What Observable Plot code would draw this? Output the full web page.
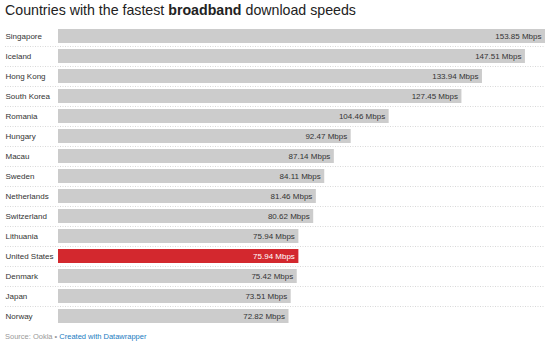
<!DOCTYPE html>
<html><head><meta charset="utf-8">
<script src="https://cdn.jsdelivr.net/npm/d3@7"></script>
<script src="https://cdn.jsdelivr.net/npm/@observablehq/plot@0.6"></script>
<style>
body{margin:0;background:#fff;font-family:"Liberation Sans",Arial,Helvetica,sans-serif;width:550px;height:344px;overflow:hidden}
#title{font-size:14.2px;color:#222;padding:2px 0 0 5px;height:22px;line-height:17px}
#title b{font-weight:bold}
#caption{font-size:7.5px;color:#999;padding:2px 0 0 5px}
#caption span{color:#1a7cc1}
</style></head>
<body>
<div id="title">Countries with the fastest <b>broadband</b> download speeds</div>
<div id="chart"></div>
<div id="caption">Source: Ookla • <span>Created with Datawrapper</span></div>
<script>
const countries = ["Singapore","Iceland","Hong Kong","South Korea","Romania","Hungary","Macau","Sweden","Netherlands","Switzerland","Lithuania","United States","Denmark","Japan","Norway"];
const speeds = [153.85,147.51,133.94,127.45,104.46,92.47,87.14,84.11,81.46,80.62,75.94,75.94,75.42,73.51,72.82];
const highlight = "United States";

const data = countries.map((c,i)=>({country:c, speed:speeds[i], hi:c===highlight}));
const sep = data.slice(0,-1);

const chart = Plot.plot({
  width: 550,
  height: 306,
  marginLeft: 5,
  marginRight: 5,
  marginTop: 2,
  marginBottom: 4,
  x: {domain:[0, d3.max(speeds)], range:[58,545], axis:null},
  y: {domain: countries, padding:0, axis:null},
  style: {fontFamily:'"Liberation Sans",Arial,Helvetica,sans-serif'},
  marks: [
    Plot.ruleY(sep, {y:"country", dy:10, stroke:"#d8d8d8", strokeDasharray:"1,1.5", strokeWidth:1}),
    Plot.barX(data, {y:"country", x:"speed", fill:d=>d.hi?"#d3282e":"#cccccc", insetTop:3, insetBottom:3}),
    Plot.text(data, {y:"country", frameAnchor:"left", text:"country", textAnchor:"start", fontSize:8, fill:"#333"}),
    Plot.text(data, {y:"country", x:"speed", text:d=>d.speed.toFixed(2)+" Mbps", textAnchor:"end", dx:-4, fontSize:8, fill:d=>d.hi?"#fff":"#333"})
  ]
});
document.getElementById("chart").append(chart);
</script>
</body></html>
